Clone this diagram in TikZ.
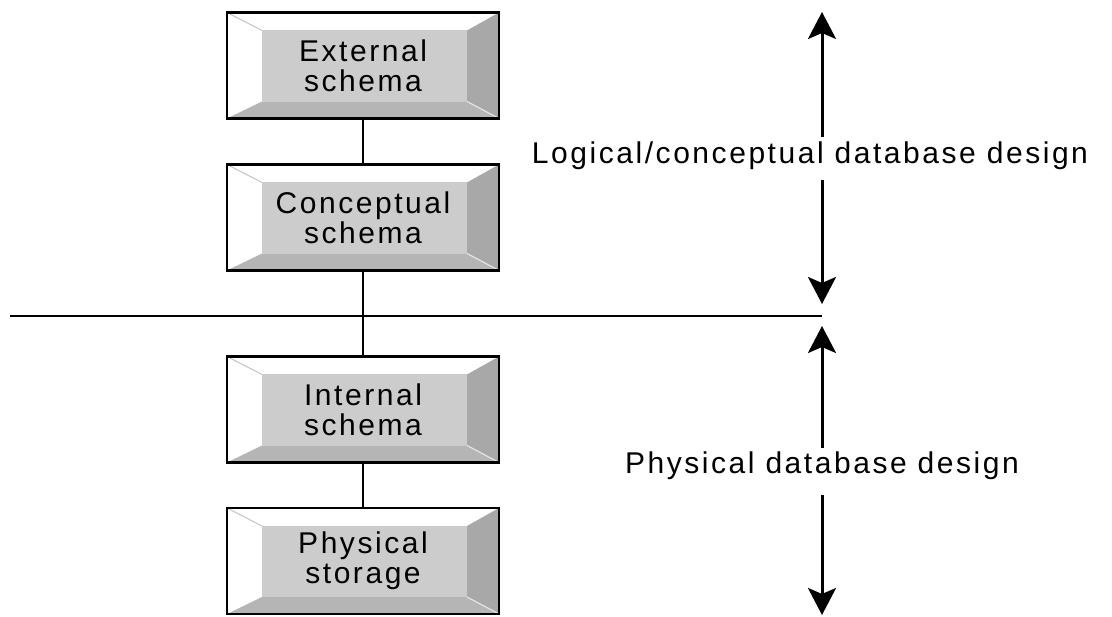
\documentclass[tikz,border=0pt]{standalone}
\usepackage{fontspec}
\usetikzlibrary{arrows.meta,calc}
\newfontfamily\diagfont{Liberation Sans}[LetterSpace=8.5]
\definecolor{bevelface}{HTML}{CCCCCC}
\definecolor{bevelbottom}{HTML}{B5B5B5}
\definecolor{bevelright}{HTML}{A8A8A8}
\definecolor{bevelhilite}{HTML}{C4C4C4}
\definecolor{bevelshine}{HTML}{E4E4E4}
\tikzset{
  % raised key-cap box: white top/left, darker bottom/right, grey face
  bevelbox/.style={
    draw, line width=2.8pt, fill=white,
    minimum width=272pt, minimum height=106pt, inner sep=0pt,
    align=center, font=\diagfont\fontsize{30}{30}\selectfont,
    path picture={
      \fill[bevelbottom] let \p1=(path picture bounding box.south west),
        \p2=(path picture bounding box.north east) in
        (\x1,\y1) -- (\x1+35pt,\y1+17pt) -- (\x2-32pt,\y1+17pt) -- (\x2,\y1) -- cycle;
      \fill[bevelright] let \p1=(path picture bounding box.south west),
        \p2=(path picture bounding box.north east) in
        (\x2,\y2) -- (\x2-32pt,\y2-18pt) -- (\x2-32pt,\y1+17pt) -- (\x2,\y1) -- cycle;
      \fill[bevelface] let \p1=(path picture bounding box.south west),
        \p2=(path picture bounding box.north east) in
        (\x1+35pt,\y1+17pt) rectangle (\x2-32pt,\y2-18pt);
      \draw[bevelhilite, line width=1pt] let \p1=(path picture bounding box.south west),
        \p2=(path picture bounding box.north east) in
        (\x1,\y2) -- (\x1+35pt,\y2-18pt);
      \draw[bevelshine, line width=1.2pt] let \p1=(path picture bounding box.south west),
        \p2=(path picture bounding box.north east) in
        (\x2,\y1) -- (\x2-32pt,\y1+17pt);
    }},
  link/.style={line width=2.8pt},
  span/.style={line width=3pt, -{Stealth[length=27pt,width=28pt,inset=6pt]}},
  rangelabel/.style={font=\diagfont\fontsize{30}{30}\selectfont, inner sep=0pt, anchor=base}
}
\begin{document}
\begin{tikzpicture}[x=1pt,y=-1pt]
  \useasboundingbox (0,0) rectangle (1112,617);

  % schema levels
  \node[bevelbox] (ext) at (363,65.5) {External\\schema};
  \node[bevelbox] (con) at (363,217.5) {Conceptual\\schema};
  \node[bevelbox] (int) at (363,409.5) {Internal\\schema};
  \node[bevelbox] (phy) at (363,561) {Physical\\storage};

  \draw[link] (ext) -- (con);
  \draw[link] (con) -- (int);
  \draw[link] (int) -- (phy);

  % boundary between logical and physical design
  \coordinate (hl) at (10,316);
  \coordinate (hr) at (822,316);
  \draw[line width=2.8pt] (hl) -- (hr);

  % logical / conceptual range
  \node[rangelabel] (logl) at (810,164) {Logical/conceptual database design};
  \coordinate (lt) at (822,12);
  \coordinate (lb) at (822,304);
  \coordinate (lgt) at (822,137);
  \coordinate (lgb) at (822,180);
  \draw[span] (lgt) -- (lt);
  \draw[span] (lgb) -- (lb);

  % physical range
  \node[rangelabel] (phyl) at (822,474) {Physical database design};
  \coordinate (pt) at (822,326);
  \coordinate (pb) at (822,615);
  \coordinate (pgt) at (822,448);
  \coordinate (pgb) at (822,495);
  \draw[span] (pgt) -- (pt);
  \draw[span] (pgb) -- (pb);
\end{tikzpicture}
\end{document}
